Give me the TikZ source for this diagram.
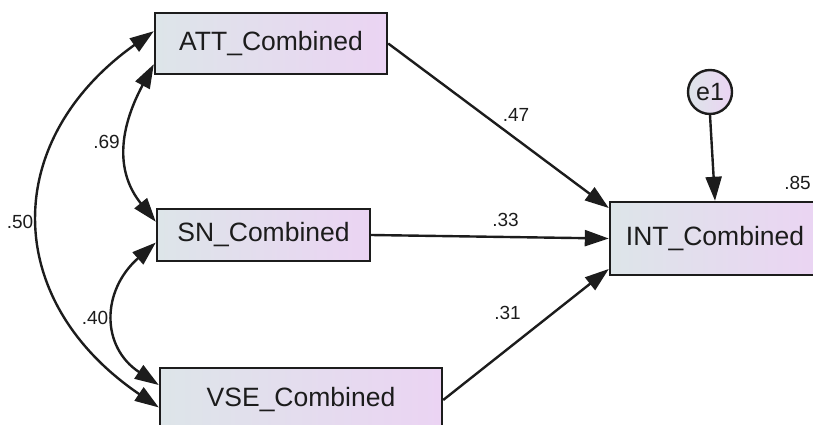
\documentclass[tikz,border=0pt]{standalone}
\usepackage{fontspec}
\setmainfont{Liberation Sans}
\usepackage{xcolor}
\usepackage{tikz}
\usetikzlibrary{arrows.meta,shapes,shapes.geometric}
\usetikzlibrary{positioning}

\definecolor{boxleft}{RGB}{221,229,233}
\definecolor{boxright}{RGB}{235,212,243}
\definecolor{ink}{RGB}{28,28,28}

\begin{document}
\begin{tikzpicture}[x=1pt, y=-1pt,
  var/.style={rectangle, draw=ink, line width=2.4pt, left color=boxleft, right color=boxright, text=ink, font=\fontsize{26.5}{26.5}\selectfont, inner sep=0pt},
  err/.style={circle, draw=ink, line width=2.4pt, left color=boxleft, right color=boxright, text=ink, font=\fontsize{25}{25}\selectfont, minimum size=44pt, inner sep=0pt},
  coef/.style={text=ink, font=\fontsize{19}{19}\selectfont, inner sep=0pt},
  reg/.style={draw=ink, line width=2.4pt, -{Triangle[length=24pt,width=16pt]}},
  cov/.style={draw=ink, line width=2.4pt, {Triangle[length=24pt,width=16pt]}-{Triangle[length=24pt,width=16pt]}}]

\useasboundingbox (0,0) rectangle (813,425);
\clip (0,0) rectangle (813,425);

\node[var, minimum width=232pt, minimum height=61pt] (att) at (271,43.5) {ATT\_Combined};
\node[var, minimum width=213pt, minimum height=52pt] (sn) at (263.5,235) {SN\_Combined};
\node[var, minimum width=282pt, minimum height=64pt] (vse) at (301,400) {VSE\_Combined};
\node[var, minimum width=210pt, minimum height=73pt] (int) at (715,238.5) {INT\_Combined};
\node[err] (e1) at (710,92) {e1};

\path[draw] [reg] (att.east) -- (int.164);
\path[draw] [reg] (sn.east) -- (int.west);
\path[draw] [reg] (vse.east) -- (int.196.7);
\path[draw] [reg] (e1.south) -- (int.north);

\path[draw] [cov] (att.174) .. controls (1,140) and (1,300) .. (vse.183);
\path[draw] [cov] (att.190.5) .. controls (117,133) and (117,174) .. (sn.173.6);
\path[draw] [cov] (sn.184.3) .. controls (101,291) and (101,347) .. (vse.174.7);

\node[coef] (c47) at (516,115) {.47};
\node[coef] (c33) at (505.5,219.5) {.33};
\node[coef] (c31) at (507.5,312.5) {.31};
\node[coef] (c69) at (106.5,141.5) {.69};
\node[coef] (c50) at (20,222) {.50};
\node[coef] (c40) at (95,317.5) {.40};
\node[coef, anchor=east] (c85) at (811,183) {.85};

\end{tikzpicture}
\end{document}
